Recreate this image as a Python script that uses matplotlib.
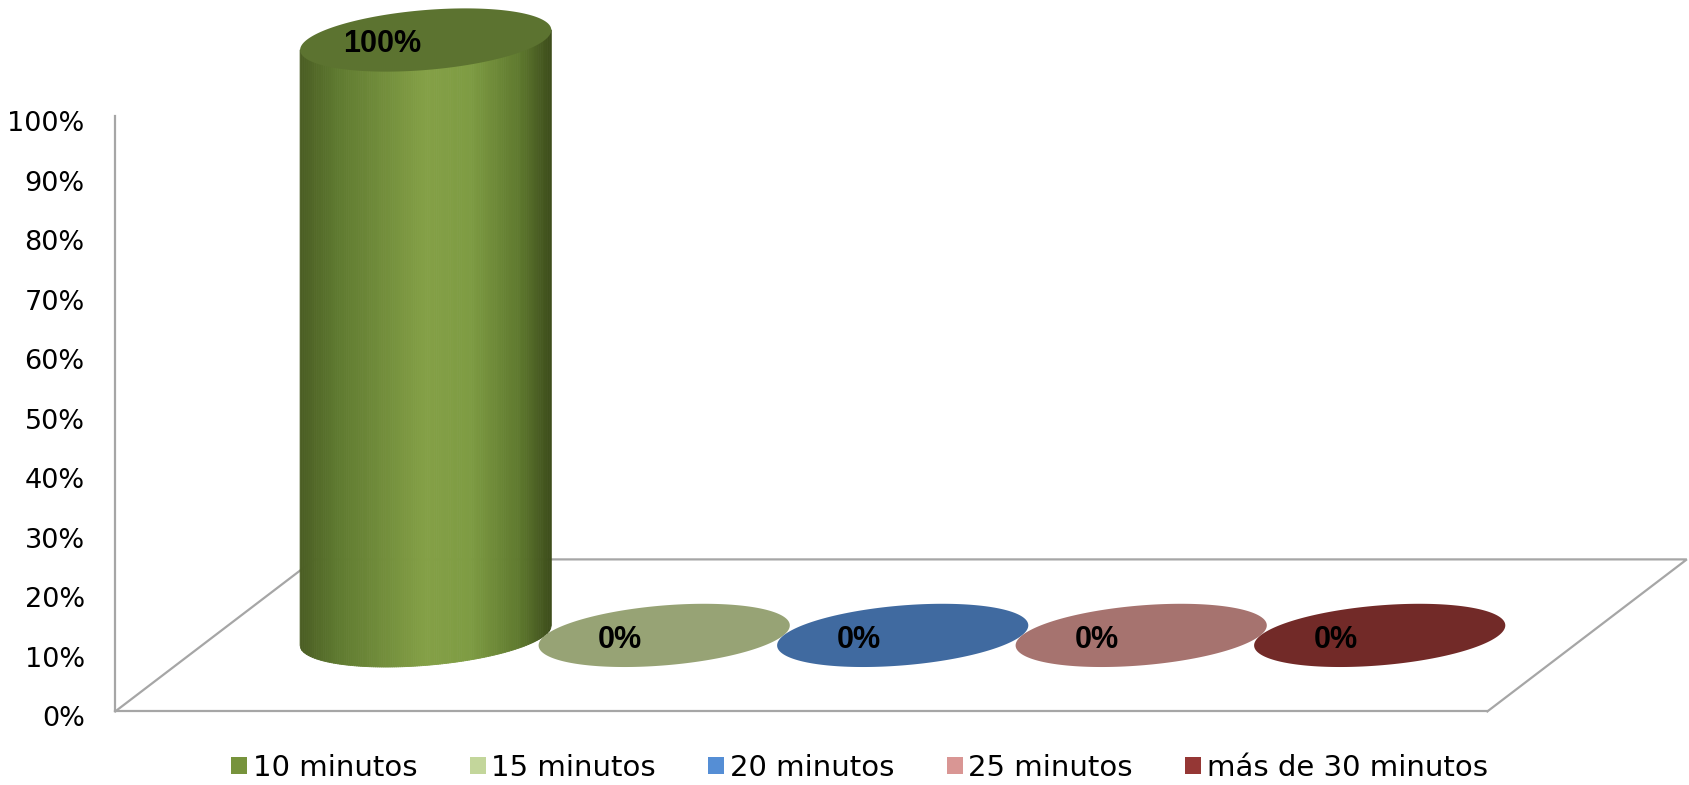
import numpy as np
import matplotlib
matplotlib.use("Agg")
import matplotlib.pyplot as plt
from matplotlib.patches import Polygon, Patch
from matplotlib.collections import PolyCollection
from matplotlib.colors import LinearSegmentedColormap
from matplotlib.transforms import ScaledTranslation

# ---------------- data ----------------
categories = ["10 minutos", "15 minutos", "20 minutos", "25 minutos", "más de 30 minutos"]
values = [100, 0, 0, 0, 0]
yticks = [0, 10, 20, 30, 40, 50, 60, 70, 80, 90, 100]
ytick_labels = [f"{t}%" for t in yticks]

# ---------------- style ----------------
legend_colors = ["#77933C", "#C3D69B", "#558ED5", "#D99694", "#953735"]
top_colors = ["#5C7330", "#97A375", "#406AA0", "#A6736F", "#722A28"]
body_grad = ["#4A5D23", "#5F7A30", "#84A046", "#7E9C43", "#5E782E", "#3D4D1B"]
line_col = "#A6A6A6"

W, H, DPI = 1690, 785, 100
fig = plt.figure(figsize=(W / DPI, H / DPI), dpi=DPI)

# front plane of the floor, in figure pixels
x_left, x_right = 115.3, 1487.4
y_zero, y_hundred = 711.4, 116.0          # from top
ax = fig.add_axes([x_left / W, (H - y_zero) / H, (x_right - x_left) / W,
                   (y_zero - y_hundred) / H])
px_per_cat = 238.5
first_center = 326.0
ax.set_xlim((x_left - first_center) / px_per_cat, (x_right - first_center) / px_per_cat)
ax.set_ylim(0, 100)
px_per_pct = (y_zero - y_hundred) / 100.0

# depth geometry (pixels -> data units)
depth_dx_px, depth_dy_px = 199.4, 152.0
ddx = depth_dx_px / px_per_cat
ddy = depth_dy_px / px_per_pct
mdx, mdy = ddx / 2, ddy / 2              # middle depth plane
a = 125.6 / px_per_cat                    # half width of cylinder
b = 30.0 / px_per_pct                     # vertical semi-axis
k = 10.0 / px_per_pct                     # shear rise at the ends

# floor
xl, xr = ax.get_xlim()
floor_x = [xl, xl + ddx, xr + ddx, xr]
floor_y = [0, ddy, ddy, 0]
ax.plot(floor_x, floor_y, color=line_col, lw=1.6, clip_on=False, zorder=1,
        solid_joinstyle="miter")

t = np.linspace(0, 2 * np.pi, 200)
cmap = LinearSegmentedColormap.from_list(
    "cyl", list(zip([0, 0.15, 0.5, 0.68, 0.88, 1.0], body_grad)))


def ellipse_pts(cx, cy):
    xs = cx + a * np.cos(t)
    ys = cy + b * np.sin(t) + k * np.cos(t)
    return np.column_stack([xs, ys])


lab_off = ScaledTranslation(-44 / DPI, -4.5 / DPI, fig.dpi_scale_trans)
for i, v in enumerate(values):
    cx = i + mdx
    y0 = mdy
    if v > 0:
        y1 = mdy + v
        n = 120
        edges = np.linspace(-a, a, n + 1)
        polys, cols = [], []
        for j in range(n):
            u0, u1 = edges[j], edges[j + 1]
            us = np.linspace(u0, u1, 4)
            r = np.clip(us / a, -1, 1)
            low = y0 + k * r - b * np.sqrt(1 - r ** 2)
            top = y1 + k * r
            pts = np.concatenate([np.column_stack([cx + us, low]),
                                  np.column_stack([cx + us[::-1], top[::-1]])])
            polys.append(pts)
            cols.append(cmap((j + 0.5) / n))
        pc = PolyCollection(polys, facecolors=cols, edgecolors=cols, linewidths=0.6,
                            clip_on=False, zorder=3 + i)
        ax.add_collection(pc)
        ax.add_patch(Polygon(ellipse_pts(cx, y1), closed=True, facecolor=top_colors[i],
                             edgecolor="none", clip_on=False, zorder=3.5 + i))
        lab_y = y1
    else:
        ax.add_patch(Polygon(ellipse_pts(cx, y0), closed=True, facecolor=top_colors[i],
                             edgecolor="none", clip_on=False, zorder=3 + i))
        lab_y = y0
    ax.text(cx, lab_y, f"{v}%", ha="center", va="center",
            fontsize=22, fontweight="bold", family="Liberation Sans", color="black",
            zorder=20, clip_on=False, transform=ax.transData + lab_off)

# axes styling
for s in ["top", "right"]:
    ax.spines[s].set_visible(False)
for s in ["left", "bottom"]:
    ax.spines[s].set_color(line_col)
    ax.spines[s].set_linewidth(1.6)
ax.set_xticks([])
ax.set_yticks(yticks)
ax.set_yticklabels(ytick_labels, fontsize=19.5, family="DejaVu Sans")
ax.tick_params(axis="y", length=0, pad=22)
off = ScaledTranslation(0, -5 / DPI, fig.dpi_scale_trans)
for lab in ax.get_yticklabels():
    lab.set_transform(lab.get_transform() + off)
ax.patch.set_alpha(0)

# legend
handles = [Patch(facecolor=c, edgecolor="none") for c in legend_colors]
fig.legend(handles, categories, loc="center", bbox_to_anchor=(0.5086, 0.022), ncol=5,
           frameon=False, prop={"family": "DejaVu Sans", "size": 21},
           handlelength=0.55, handleheight=0.55, handletextpad=0.19,
           columnspacing=1.8, borderpad=0, borderaxespad=0)

fig.savefig("out.png", dpi=DPI)
